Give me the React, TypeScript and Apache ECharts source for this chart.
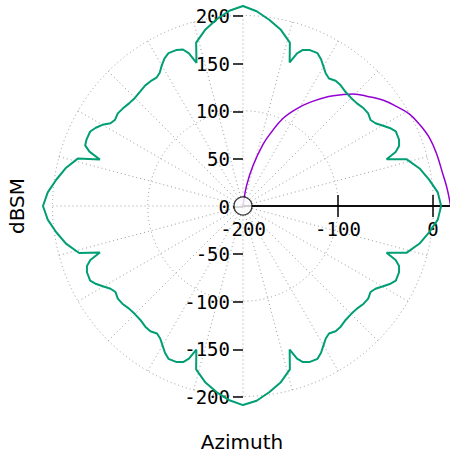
import React, { useEffect, useRef } from "react";
import * as echarts from "echarts";

// Measured RCS pattern (azimuth in degrees, RCS in dBSM)
const azimuth = [
  0, 4, 8, 12, 16, 18, 19.5, 21, 23, 26, 28, 30, 32, 34, 36.5, 39, 42, 45, 48, 51, 53.5, 56, 58, 60, 62, 64, 67, 69, 70.5, 72, 74, 78, 82, 86,
  90, 94, 98, 102, 106, 108, 109.5, 111, 113, 116, 118, 120, 122, 124, 126.5, 129, 132, 135, 138, 141, 143.5, 146, 148, 150, 152, 154, 157, 159, 160.5, 162, 164, 168, 172, 176,
  180, 184, 188, 192, 196, 198, 199.5, 201, 203, 206, 208, 210, 212, 214, 216.5, 219, 222, 225, 228, 231, 233.5, 236, 238, 240, 242, 244, 247, 249, 250.5, 252, 254, 258, 262, 266,
  270, 274, 278, 282, 286, 288, 289.5, 291, 293, 296, 298, 300, 302, 304, 306.5, 309, 312, 315, 318, 321, 323.5, 326, 328, 330, 332, 334, 337, 339, 340.5, 342, 344, 348, 352, 356,
  360,
];
const rcs = [
  8, 5, -2.5, -10.5, -21.5, -41.5, -30, -24.5, -22, -21.5, -25.5, -31, -36, -38.5, -36.5, -37, -39, -39.5, -39, -37, -36.5, -38.5, -36, -31, -25.5, -21.5, -22, -24.5, -30, -41.5, -21.5, -10.5, -2.5, 5,
  10, 5.5, -2, -10.5, -21.5, -42, -30, -24, -22, -21.5, -24.5, -29.5, -35, -37.5, -37, -37, -38.5, -39.5, -39, -37.5, -36.5, -38, -36, -29.5, -25, -21.5, -21.5, -22.5, -29, -42, -19.5, -9.5, -2, 5.5,
  10, 5.5, -2, -10, -21, -42, -30, -24.5, -22, -21.5, -25.5, -31, -36, -38.5, -36.5, -37, -39, -39.5, -39, -37, -36.5, -38.5, -36, -31, -25.5, -21.5, -22, -24.5, -30, -41.5, -21.5, -10.5, -2.5, 4.5,
  9, 5, -2.5, -10.5, -21.5, -41.5, -30, -24.5, -22, -21.5, -25.5, -31, -36, -38.5, -36.5, -37, -39, -39.5, -39, -37, -36.5, -38.5, -36, -31, -25.5, -21.5, -22, -24.5, -30, -41.5, -21.5, -10.5, -2.5, 5,
  8,
];

// Reference curve
const refAzimuth = [0, 5, 9, 15, 20, 25, 29, 33, 37, 41, 45.5, 48, 52, 57, 61, 65.5, 69, 72, 76, 80, 84];
const refRcs = [18, 15, 12.5, 10.5, 8.5, 4, -0.5, -8, -15.5, -25, -35, -42.5, -54, -70, -83, -99, -117, -132, -156, -178, -200];

// Axis ticks
const rLabelValues = [-200, -100, 0];
const rTickValues = [-100, 0];
const origin = [[-200, 0]];

const MONO = "'DejaVu Sans Mono', monospace";
const SANS = "'DejaVu Sans', sans-serif";
const dotted = { color: "#9a9a9a", type: [1, 3] as number[], width: 1 };

const CX = 243;
const CY = 206;
const R0 = 190.5; // pixel radius for -200..0 dBSM
const DATA_MAX = 20; // headroom for values above 0 dBSM

export default function App() {
  const ref = useRef<HTMLDivElement>(null);
  useEffect(() => {
    document.body.style.margin = "0";
    const chart = echarts.init(ref.current!, null, { renderer: "svg" });
    const hiddenAngle = {
      type: "value", min: 0, max: 360, startAngle: 0, clockwise: false,
      axisLine: { show: false }, axisTick: { show: false }, axisLabel: { show: false },
    };
    const xBase = {
      type: "value", min: -200, max: 18, position: "bottom",
      axisLine: { show: true, onZero: false, lineStyle: { color: "#000", width: 1.5 } },
      splitLine: { show: false },
    };
    chart.setOption({
      animation: false,
      backgroundColor: "#ffffff",
      polar: [
        { center: [CX, CY], radius: R0 },
        { center: [CX, CY], radius: (R0 * (200 + DATA_MAX)) / 200 },
      ],
      angleAxis: [
        { ...hiddenAngle, polarIndex: 0, interval: 15, splitLine: { show: true, lineStyle: dotted } },
        { ...hiddenAngle, polarIndex: 1, interval: 90, splitLine: { show: false } },
      ],
      radiusAxis: [
        {
          polarIndex: 0, type: "value", min: -200, max: 0, interval: 100,
          axisLine: { show: false }, axisTick: { show: false }, axisLabel: { show: false },
          splitLine: { show: true, lineStyle: dotted },
        },
        {
          polarIndex: 1, type: "value", min: -200, max: DATA_MAX, interval: 20,
          axisLine: { show: false }, axisTick: { show: false }, axisLabel: { show: false },
          splitLine: { show: false },
        },
      ],
      grid: [
        { left: CX, right: 0, top: 16, bottom: 57, containLabel: false, outerBoundsMode: "none" },
        { left: CX, right: 0, top: 0, bottom: 454 - CY, containLabel: false, outerBoundsMode: "none" },
        { left: CX, right: 0, top: 0, bottom: 454 - CY, containLabel: false, outerBoundsMode: "none" },
      ],
      xAxis: [
        { type: "value", gridIndex: 0, min: -1, max: 1, show: false },
        {
          ...xBase, gridIndex: 1,
          axisTick: { show: true, customValues: rTickValues, length: 11, lineStyle: { color: "#000", width: 1.5 } },
          axisLabel: { show: true, customValues: rLabelValues, fontFamily: MONO, fontSize: 19, color: "#000", margin: 13 },
        },
        {
          ...xBase, gridIndex: 2,
          axisTick: { show: true, inside: true, customValues: rTickValues, length: 11, lineStyle: { color: "#000", width: 1.5 } },
          axisLabel: { show: false },
        },
      ],
      yAxis: [
        {
          type: "value", gridIndex: 0, min: -200, max: 200, interval: 50, position: "left",
          axisLine: { show: false, onZero: false },
          axisTick: { show: true, length: 10, lineStyle: { color: "#000", width: 1.5 } },
          axisLabel: { fontFamily: MONO, fontSize: 19, color: "#000", margin: 13 },
          splitLine: { show: false },
        },
        { type: "value", gridIndex: 1, min: 0, max: 1, show: false },
        { type: "value", gridIndex: 2, min: 0, max: 1, show: false },
      ],
      graphic: [
        {
          type: "text", x: 17, y: CY, rotation: Math.PI / 2,
          style: { text: "dBSM", font: `20px ${SANS}`, fill: "#000", textAlign: "center", textVerticalAlign: "middle" },
        },
        {
          type: "text", x: 242, y: 442,
          style: { text: "Azimuth", font: `20px ${SANS}`, fill: "#000", textAlign: "center", textVerticalAlign: "middle" },
        },
      ],
      series: [
        {
          type: "line", coordinateSystem: "polar", polarIndex: 1,
          data: refAzimuth.map((a, i) => [refRcs[i], a]),
          symbol: "none", clip: false, smooth: 0.4,
          lineStyle: { color: "#9400d3", width: 1.5 }, z: 3,
        },
        {
          type: "line", coordinateSystem: "polar", polarIndex: 1,
          data: azimuth.map((a, i) => [rcs[i], a]),
          symbol: "none", clip: false,
          lineStyle: { color: "#009e73", width: 2 }, z: 4,
        },
        {
          type: "scatter", coordinateSystem: "polar", polarIndex: 0,
          data: origin, symbol: "circle", symbolSize: 18, silent: true,
          itemStyle: { color: "#ffffff", borderColor: "#000", borderWidth: 1.3 }, z: 10,
        },
      ],
    });
    return () => chart.dispose();
  }, []);
  return <div ref={ref} style={{ width: 450, height: 454 }} />;
}
